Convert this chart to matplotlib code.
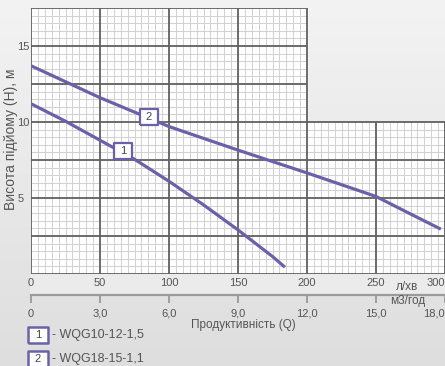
import numpy as np
import matplotlib
matplotlib.use("Agg")
import matplotlib.pyplot as plt
from matplotlib.lines import Line2D
from matplotlib.patches import Rectangle
from matplotlib.colors import LinearSegmentedColormap

plt.rcParams['font.family'] = ['Liberation Sans', 'DejaVu Sans']

# ---- data ----
q1 = [0, 25, 50, 75, 100, 125, 150, 175, 184]          # л/хв
h1 = [11.2, 10.05, 8.8, 7.55, 6.1, 4.55, 2.9, 1.15, 0.45]
q2 = [0, 50, 100, 150, 200, 250, 275, 297]
h2 = [13.7, 11.6, 9.7, 8.15, 6.65, 5.1, 3.95, 2.95]
labels = ['1', '2']
models = ['- WQG10-12-1,5', '- WQG18-15-1,1']
label_pos_q = [67, 85.5]
label_pos_h = [8.1, 10.3]
x_ticks = [0, 50, 100, 150, 200, 250, 300]
x2_ticks = [0, 3, 6, 9, 12, 15, 18]
x2_labels = ['0', '3,0', '6,0', '9,0', '12,0', '15,0', '18,0']
y_ticks = [5, 10, 15]

Q_MAX, H_MAX, Q_SPLIT, H_SPLIT = 300, 17.5, 200, 10

CURVE = '#6a62a8'
TXT = '#555555'
W, H = 445, 366

def fx(px):
    return px / W

def fy(py):
    return 1 - py / H

fig = plt.figure(figsize=(W / 100, H / 100), dpi=100)

# background gradient
axbg = fig.add_axes([0, 0, 1, 1], zorder=-10)
grad = np.linspace(0, 1, 256).reshape(-1, 1)
cm = LinearSegmentedColormap.from_list('bg', ['#f3f3f3', '#dedede'])
axbg.imshow(grad, aspect='auto', cmap=cm, extent=[0, 1, 0, 1], origin='upper')
axbg.set_xlim(0, 1); axbg.set_ylim(0, 1)
axbg.axis('off')

# band under the grid
axbg.add_patch(Rectangle((fx(30), fy(295)), 1 - fx(30), (295 - 274) / H,
                         facecolor='#ebebeb', edgecolor='none'))

ax = fig.add_axes([fx(31), fy(274), (W - 31) / W, (274 - 8) / H])
ax.set_xlim(0, Q_MAX)
ax.set_ylim(0, H_MAX)
ax.patch.set_alpha(0)
for s in ax.spines.values():
    s.set_visible(False)

ax.fill([0, Q_MAX, Q_MAX, Q_SPLIT, Q_SPLIT, 0],
        [0, 0, H_SPLIT, H_SPLIT, H_MAX, H_MAX], color='white', zorder=0)

for x in np.arange(0, Q_MAX + 0.1, 5):
    top = H_MAX if x <= Q_SPLIT else H_SPLIT
    major = abs(x % 50) < 1e-6
    ax.vlines(x, 0, top, color='#606060' if major else '#d2d2d2',
              lw=1.3 if major else 0.75, zorder=2 if major else 1)
for y in np.arange(0, H_MAX + 0.01, 0.5):
    right = Q_MAX if y <= H_SPLIT else Q_SPLIT
    major = abs(y % 2.5) < 1e-6
    ax.hlines(y, 0, right, color='#606060' if major else '#d2d2d2',
              lw=1.3 if major else 0.75, zorder=2 if major else 1)

ax.plot(q1, h1, color=CURVE, lw=2.3, zorder=5, solid_capstyle='butt')
ax.plot(q2, h2, color=CURVE, lw=2.3, zorder=5, solid_capstyle='butt')

box = [(-1.2, -1), (1.2, -1), (1.2, 1), (-1.2, 1), (-1.2, -1)]
for lab, qx, hy in zip(labels, label_pos_q, label_pos_h):
    ax.plot([qx], [hy], marker=box, ms=13, mfc='white', mec=CURVE, mew=1.6, zorder=6)
    ax.text(qx, hy, lab, ha='center', va='center', fontsize=8, color='#444444', zorder=7)

ax.set_xticks(x_ticks)
ax.set_yticks(y_ticks)
ax.tick_params(axis='x', length=0, pad=3, labelsize=8, colors=TXT)
ax.tick_params(axis='y', length=0, pad=10, labelsize=8, colors=TXT)
for t in ax.get_yticklabels():
    t.set_ha('left')
ax.get_xticklabels()[-1].set_ha('right')

# second (m3/h) axis
ax2 = fig.add_axes([fx(31), fy(295), (W - 31) / W, 0.0001])
ax2.set_xlim(0, 18)
ax2.patch.set_alpha(0)
for k in ['top', 'left', 'right']:
    ax2.spines[k].set_visible(False)
ax2.spines['bottom'].set_color('#9a9a9a')
ax2.spines['bottom'].set_linewidth(1.6)
ax2.set_yticks([])
ax2.set_xticks(x2_ticks)
ax2.set_xticklabels(x2_labels)
ax2.tick_params(axis='x', direction='out', length=6, width=1.3, color='#9a9a9a',
                pad=4, labelsize=8, labelcolor=TXT)
ax2.get_xticklabels()[-1].set_ha('right')

fig.text(fx(407), fy(287), 'л/хв', ha='center', va='center', fontsize=8.5, color=TXT)
fig.text(fx(408), fy(301), 'м3/год', ha='center', va='center', fontsize=8.5, color=TXT)
fig.text(fx(243), fy(325), 'Продуктивність (Q)', ha='center', va='center', fontsize=8.5, color=TXT)
fig.text(fx(11.5), fy(139), 'Висота підйому (Н), м', ha='center', va='center',
         rotation=90, fontsize=10, color=TXT)

leg_y = [335, 359]
for lab, mod, py in zip(labels, models, leg_y):
    fig.add_artist(Line2D([fx(38)], [fy(py)], marker=box, ms=14, mfc='white',
                          mec=CURVE, mew=1.8, transform=fig.transFigure))
    fig.text(fx(38), fy(py), lab, ha='center', va='center', fontsize=8, color='#444444')
    fig.text(fx(52), fy(py), mod, ha='left', va='center', fontsize=9, color=TXT)

fig.savefig('out.png', dpi=100)
